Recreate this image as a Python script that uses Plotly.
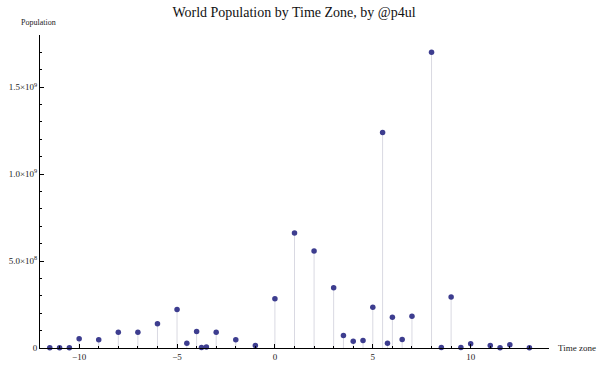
import plotly.graph_objects as go

# Time zone offsets (hours from UTC)
time_zones = [-11.5, -11, -10.5, -10, -9, -8, -7, -6, -5, -4.5, -4, -3.75, -3.5, -3, -2, -1,
              0, 1, 2, 3, 3.5, 4, 4.5, 5, 5.5, 5.75, 6, 6.5, 7, 8, 8.5, 9, 9.5, 10, 11, 11.5, 12, 13]
# Population (millions)
population_millions = [1, 1, 1, 53, 47, 91, 91, 139, 221, 28, 95, 3, 6, 91, 47, 14,
                       283, 662, 558, 346, 72, 39, 43, 234, 1240, 28, 177, 49, 183, 1701, 3, 294, 3, 24, 14, 1, 18, 1]

population = [v * 1e6 for v in population_millions]

y_tickvals = [0, 5e8, 1e9, 1.5e9]
y_ticktext = ["0", "5.0×10<sup>8</sup>", "1.0×10<sup>9</sup>", "1.5×10<sup>9</sup>"]
x_tickvals = [-10, -5, 0, 5, 10]

stem_x, stem_y = [], []
for tz, p in zip(time_zones, population):
    stem_x += [tz, tz, None]
    stem_y += [0, p, None]

FONT = "Liberation Serif, Times New Roman, serif"

fig = go.Figure()
fig.add_trace(go.Scatter(x=stem_x, y=stem_y, mode="lines",
                         line=dict(color="#d9d9e2", width=1), hoverinfo="skip",
                         showlegend=False, cliponaxis=False))
fig.add_trace(go.Scatter(x=time_zones, y=population, mode="markers",
                         marker=dict(color="#3d3d8f", size=5.5), showlegend=False,
                         cliponaxis=False))

fig.update_layout(
    width=600, height=366,
    margin=dict(l=40, r=51, t=35, b=17.5, autoexpand=False),
    paper_bgcolor="white", plot_bgcolor="white",
    font=dict(family=FONT, size=9, color="#222"),
    title=dict(text="World Population by Time Zone, by @p4ul", x=0.49, xanchor="center",
               y=0.967, yanchor="middle", font=dict(family=FONT, size=14, color="#111")),
    xaxis=dict(range=[-12, 14], showgrid=False, zeroline=False, showline=True,
               automargin=False,
               linecolor="black", linewidth=1, tickvals=x_tickvals,
               ticks="inside", ticklen=4, tickcolor="black",
               minor=dict(dtick=1, tick0=0, ticks="inside", ticklen=2, tickcolor="black"),
               tickfont=dict(family=FONT, size=9, color="#222")),
    yaxis=dict(range=[0, 1.8e9], showgrid=False, zeroline=False, showline=True,
               automargin=False,
               linecolor="black", linewidth=1, tickvals=y_tickvals, ticktext=y_ticktext,
               ticks="inside", ticklen=4, tickcolor="black",
               minor=dict(dtick=1e8, tick0=0, ticks="inside", ticklen=2, tickcolor="black"),
               tickfont=dict(family=FONT, size=9, color="#222")),
    annotations=[
        dict(text="Population", xref="paper", yref="paper", x=-0.002, y=1.0,
             xanchor="center", yanchor="bottom", yshift=6, showarrow=False,
             font=dict(family=FONT, size=8, color="#222")),
        dict(text="Time zone", xref="paper", yref="paper", x=1.0, y=0.0,
             xanchor="left", yanchor="middle", xshift=7, showarrow=False,
             font=dict(family=FONT, size=9, color="#222")),
    ],
)

fig.write_html("out.html", config={"displayModeBar": False},
               post_script="document.body.style.margin='0';")
